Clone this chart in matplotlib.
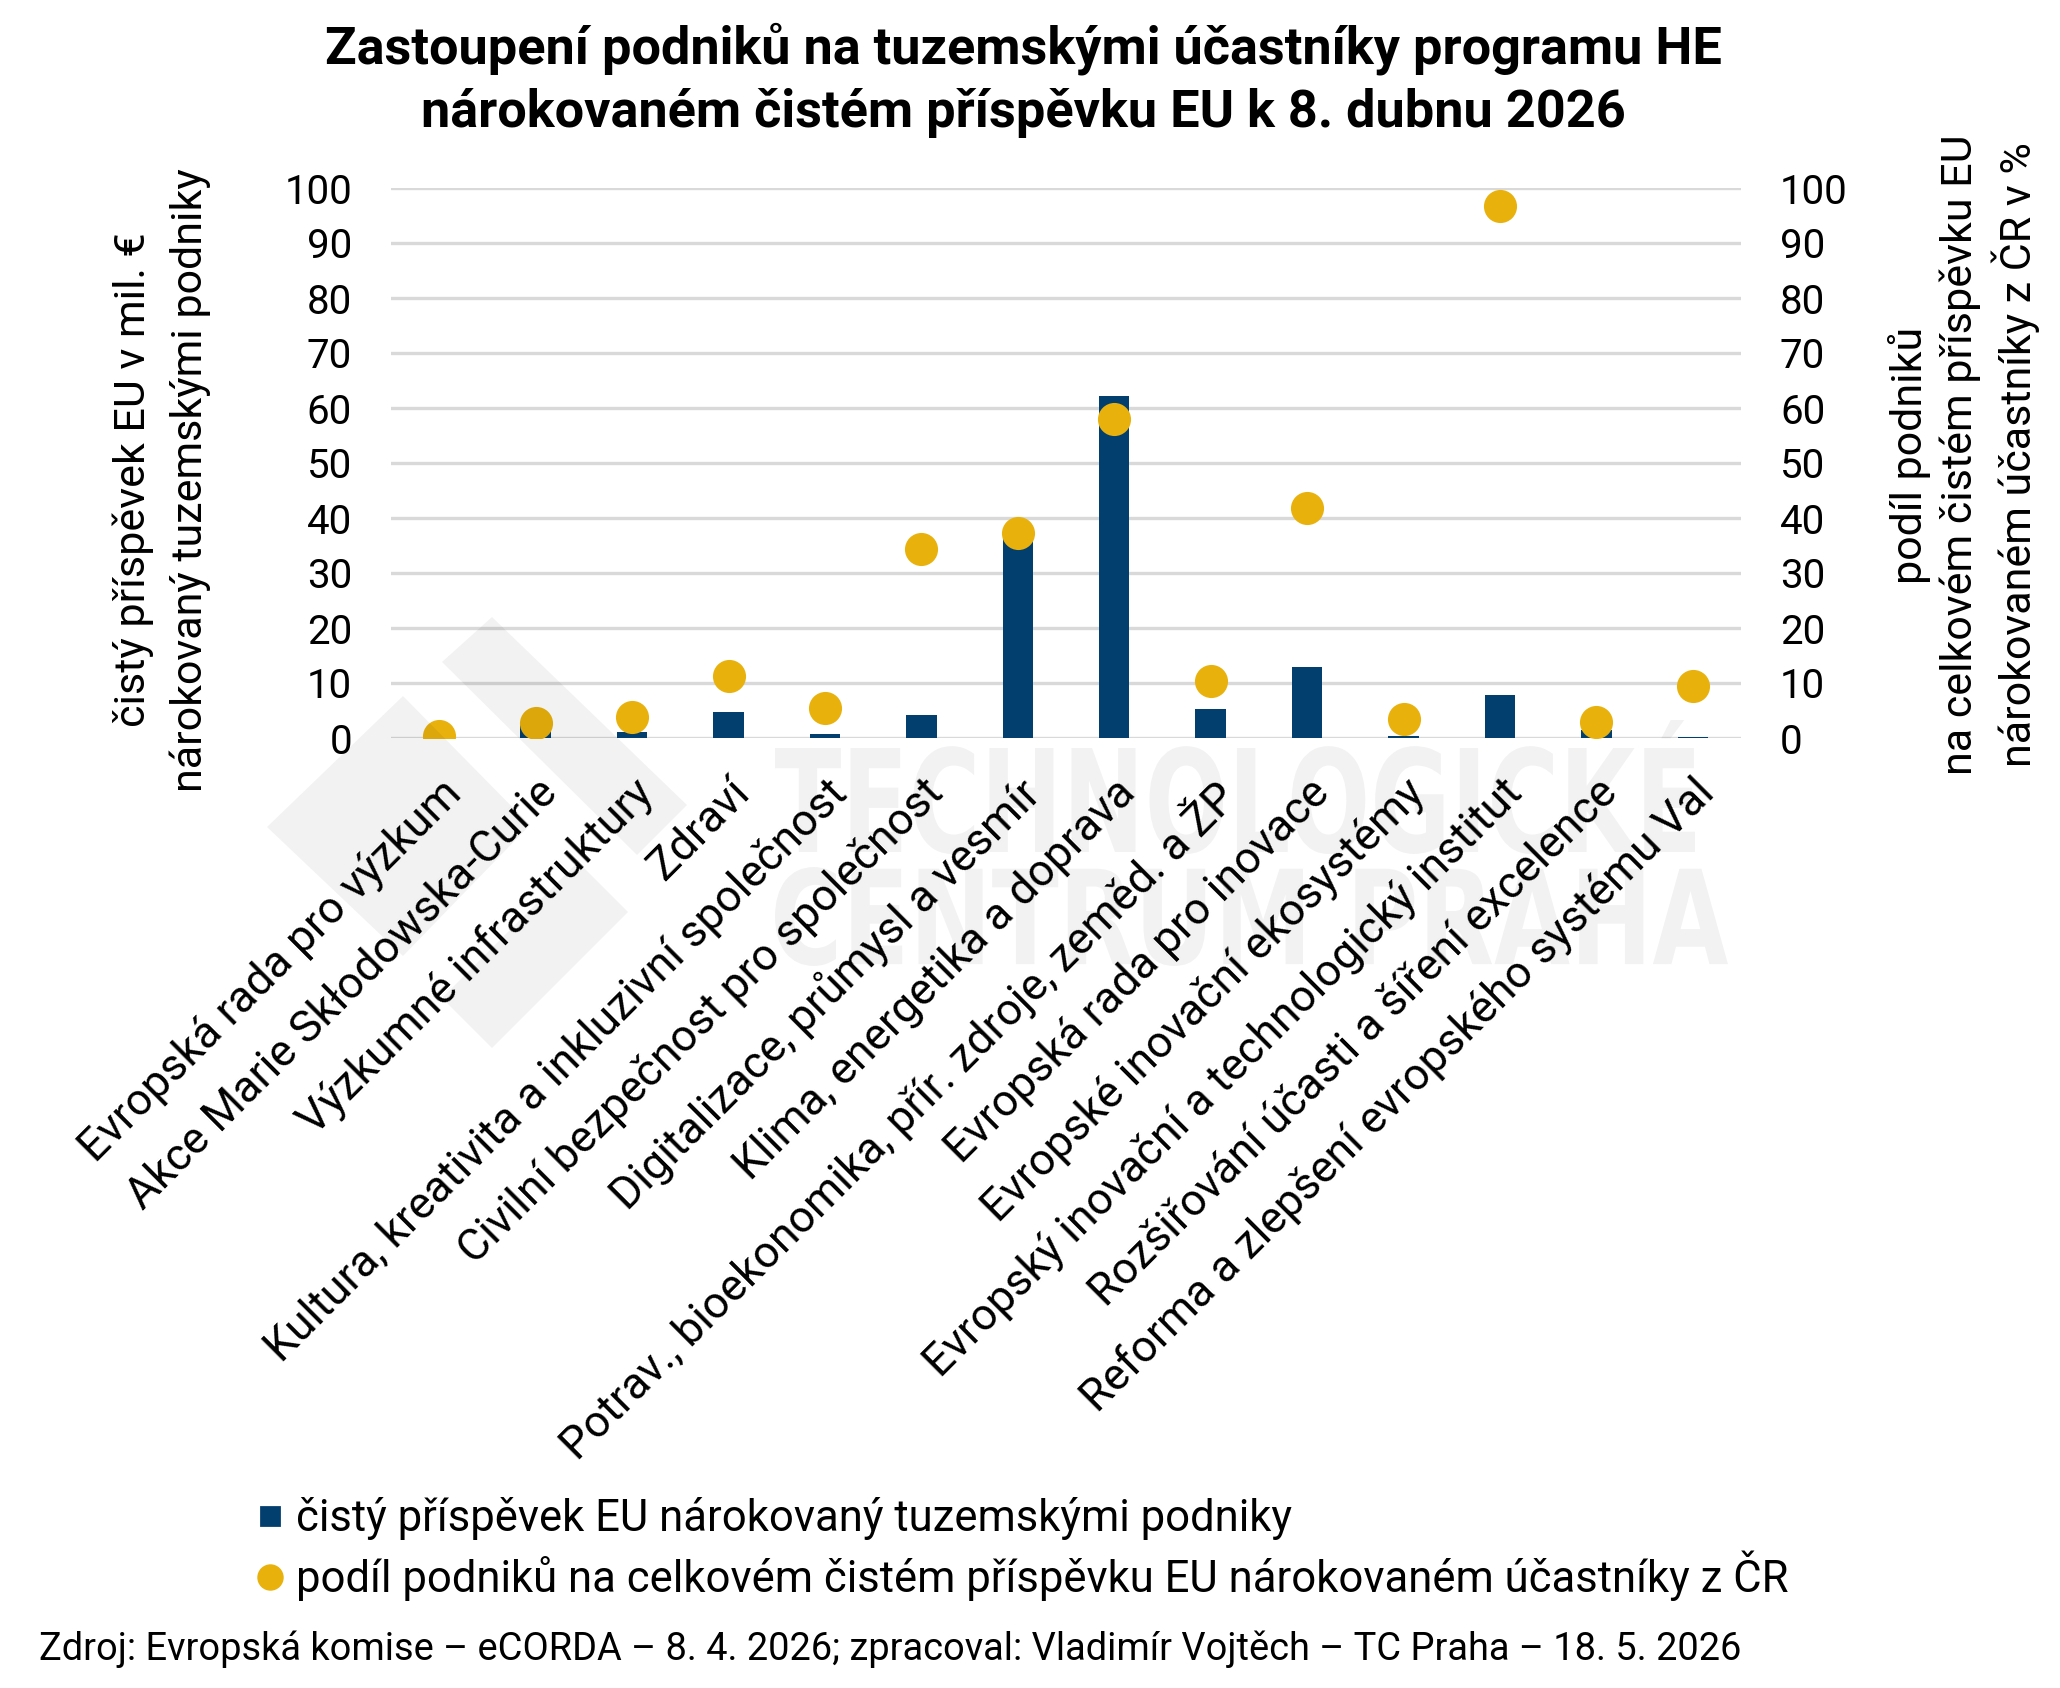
import matplotlib
matplotlib.use("Agg")
import matplotlib.pyplot as plt
from matplotlib.textpath import TextPath
from matplotlib.font_manager import FontProperties
from matplotlib.patches import PathPatch, Polygon
from matplotlib.transforms import Affine2D, IdentityTransform
from matplotlib.lines import Line2D

categories = [
    "Evropská rada pro výzkum",
    "Akce Marie Skłodowska-Curie",
    "Výzkumné infrastruktury",
    "Zdraví",
    "Kultura, kreativita a inkluzivní společnost",
    "Civilní bezpečnost pro společnost",
    "Digitalizace, průmysl a vesmír",
    "Klima, energetika a doprava",
    "Potrav., bioekonomika, přír. zdroje, zeměd. a ŽP",
    "Evropská rada pro inovace",
    "Evropské inovační ekosystémy",
    "Evropský inovační a technologický institut",
    "Rozšiřování účasti a šíření excelence",
    "Reforma a zlepšení evropského systému Val",
]
contribution_mil_eur = [0.3, 2.5, 1.1, 4.7, 0.7, 4.2, 38.0, 62.2, 5.3, 12.85, 0.3, 7.9, 1.5, 0.2]
share_pct = [0.3, 2.8, 3.9, 11.3, 5.5, 34.4, 37.3, 58.0, 10.3, 41.8, 3.4, 96.7, 2.85, 9.45]
yticks = [0, 10, 20, 30, 40, 50, 60, 70, 80, 90, 100]

title = "Zastoupení podniků na tuzemskými účastníky programu HE\nnárokovaném čistém příspěvku EU k 8. dubnu 2026"
left_label = "čistý příspěvek EU v mil. €\nnárokovaný tuzemskými podniky"
right_label = "podíl podniků\nna celkovém čistém příspěvku EU\nnárokovaném účastníky z ČR v %"
legend_labels = ["čistý příspěvek EU nárokovaný tuzemskými podniky",
                 "podíl podniků na celkovém čistém příspěvku EU nárokovaném účastníky z ČR"]
source = "Zdroj: Evropská komise – eCORDA – 8. 4. 2026; zpracoval: Vladimír Vojtěch – TC Praha – 18. 5. 2026"

BLUE = "#033F6E"
GOLD = "#E8B10C"
GRID = "#D9D9D9"
FONT = ["Roboto", "DejaVu Sans"]
plt.rcParams["font.family"] = FONT

W, H, DPI = 2060, 1688, 200
fig = plt.figure(figsize=(W / DPI, H / DPI), dpi=DPI)
fig.patch.set_facecolor("white")

ax = fig.add_axes([391 / W, 1 - 738 / H, (1741 - 391) / W, (738 - 188) / H])
ax.set_facecolor("none")
x = list(range(len(categories)))
ax.set_ylim(0, 100)
ax.set_xlim(-0.5, len(categories) - 0.5)
ax.set_yticks(yticks)
ax.set_yticklabels([str(t) for t in yticks])
ax.grid(axis="y", color=GRID, linewidth=1.2, zorder=0)
ax.set_axisbelow(True)
for s in ax.spines.values():
    s.set_visible(False)
ax.bar(x, contribution_mil_eur, width=0.315, color=BLUE, zorder=2)
ax.tick_params(axis="y", length=0, pad=14, labelsize=14.5)
ax.tick_params(axis="x", length=0, pad=12)
ax.set_xticks(x)
ax.set_xticklabels(categories, rotation=45, ha="right", va="top",
                   rotation_mode="anchor", fontsize=16)

ax2 = ax.twinx()
ax2.set_ylim(0, 100)
ax2.set_yticks(yticks)
ax2.set_yticklabels([str(t) for t in yticks])
ax2.tick_params(axis="y", length=0, pad=14, labelsize=14.5)
for s in ax2.spines.values():
    s.set_visible(False)
ax2.scatter(x, share_pct, s=142, color=GOLD, zorder=3, linewidths=0)

fig.text(1023 / W, 1 - 22 / H, title, ha="center", va="top", fontsize=18.8,
         fontweight="bold", linespacing=1.35)
fig.text(162 / W, 1 - 480 / H, left_label, rotation=90, ha="center", va="center",
         fontsize=15.5, linespacing=1.47)
fig.text(1964 / W, 1 - 455 / H, right_label, rotation=90, ha="center", va="center",
         fontsize=15.5, linespacing=1.26)

handles = [Line2D([], [], marker="s", linestyle="none", color=BLUE, markersize=6.5),
           Line2D([], [], marker="o", linestyle="none", color=GOLD, markersize=8.5)]
fig.legend(handles, legend_labels, loc="upper left", bbox_to_anchor=(257 / W, 1 - 1497 / H),
           frameon=False, fontsize=15.7, handlelength=0.6, handletextpad=0.3,
           labelspacing=0.25, borderaxespad=0, borderpad=0)

fig.text(39 / W, 1 - 1649 / H, source, ha="left", va="center", fontsize=13.7)

# watermark (light, drawn over)
WM = (0, 0, 0, 0.05)

def wm_text(s, x0, x1, ytop, ybot):
    tp = TextPath((0, 0), s, size=100, prop=FontProperties(family="DejaVu Sans", weight="bold"))
    bb = tp.get_extents()
    tr = (Affine2D().translate(-bb.x0, -bb.y0)
          .scale((x1 - x0) / bb.width, (ybot - ytop) / bb.height)
          .translate(x0, H - ybot))
    p = PathPatch(tr.transform_path(tp), facecolor=WM, edgecolor="none",
                  transform=IdentityTransform(), zorder=10)
    fig.add_artist(p)

wm_text("TECHNOLOGICKÉ", 775, 1695, 720, 854)
wm_text("CENTRUM PRAHA", 775, 1728, 867, 966)

def wm_poly(pts):
    pts = [(px, H - py) for px, py in pts]
    fig.add_artist(Polygon(pts, closed=True, facecolor=WM, edgecolor="none",
                           transform=IdentityTransform(), zorder=10))

wm_poly([(267, 827), (403, 696), (530, 825), (403, 956)])
wm_poly([(442, 662), (492, 617), (687, 805), (637, 855)])
wm_poly([(442, 998), (578, 862), (628, 912), (492, 1048)])

fig.savefig("out.png", dpi=DPI, facecolor="white")
